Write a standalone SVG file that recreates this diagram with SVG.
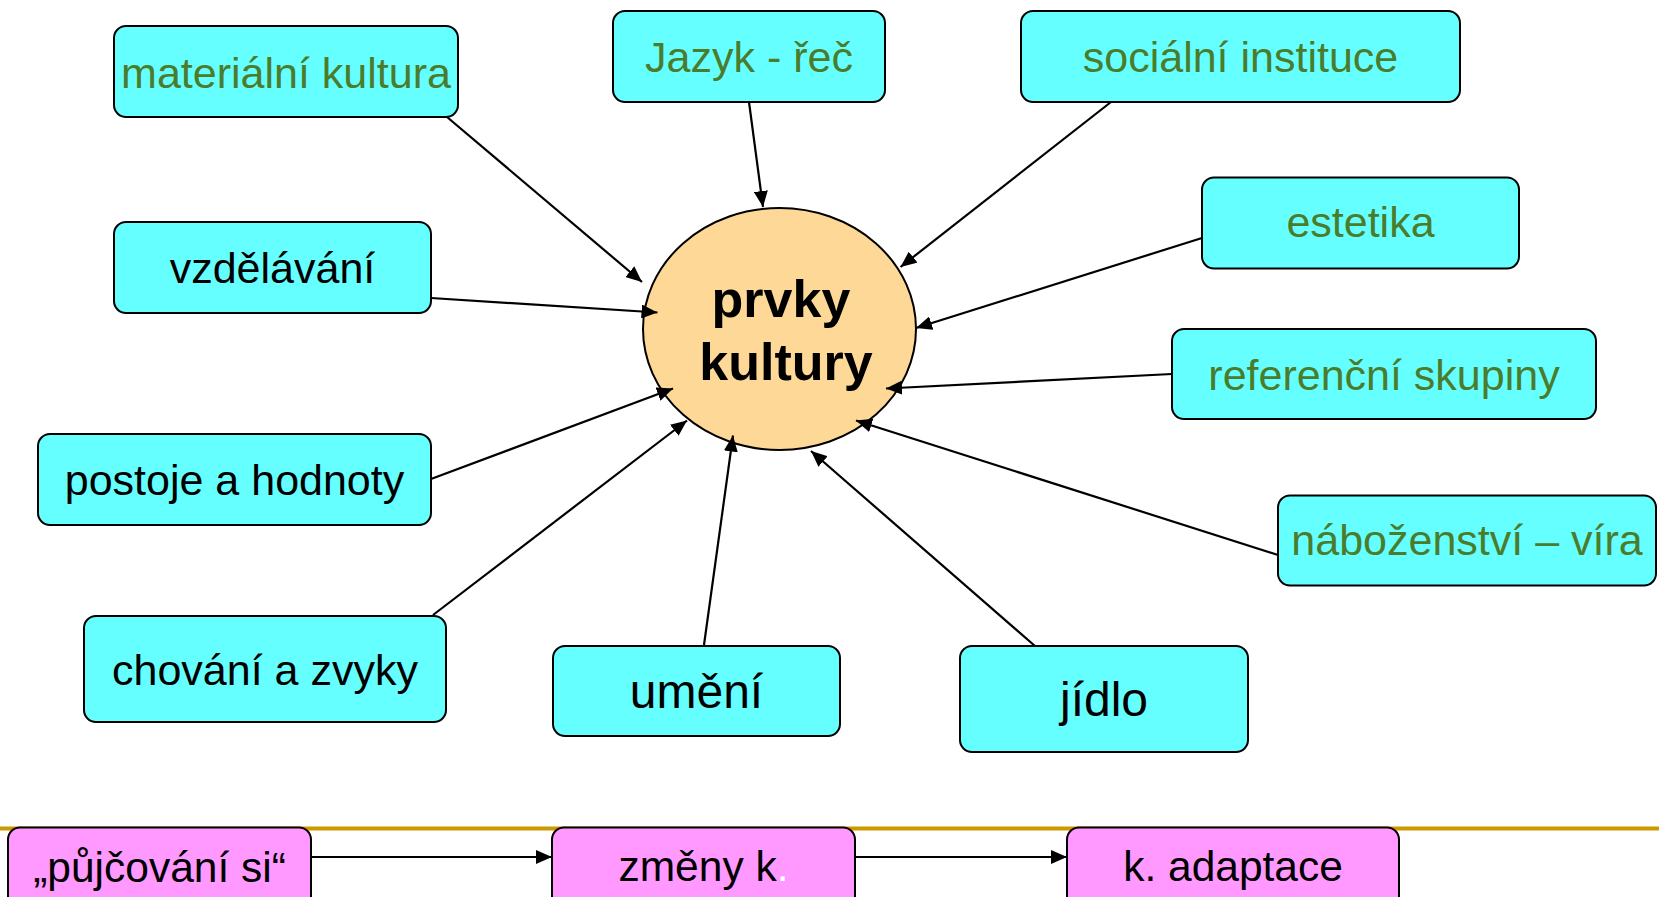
<svg xmlns="http://www.w3.org/2000/svg" width="1659" height="897" viewBox="0 0 1659 897">
<defs>
<marker id="ah" markerUnits="userSpaceOnUse" markerWidth="16" markerHeight="14" refX="16" refY="7" orient="auto">
<path d="M0,0 L16,7 L0,14 z" fill="#000"/>
</marker>
</defs>
<style>
.box{fill:#66FFFF;stroke:#000;stroke-width:2}
.pink{fill:#FF99FF;stroke:#000;stroke-width:2}
.t{font-family:"Liberation Sans",Arial,sans-serif;font-size:43px;text-anchor:middle;fill:#000}
.g{fill:#4A7C2C}
.big{font-size:48px}
.b{font-size:42.5px}
.c{stroke:#000;stroke-width:2.2;fill:none;marker-end:url(#ah)}
</style>
<rect width="1659" height="897" fill="#fff"/>
<line x1="0" y1="828.5" x2="1659" y2="828.5" stroke="#CC9900" stroke-width="4"/>

<g id="center">
<ellipse cx="779.5" cy="329" rx="136.5" ry="121" fill="#FDD896" stroke="#000" stroke-width="2"/>
<text class="t" x="781" y="317" style="font-weight:bold;font-size:52px">prvky</text>
<text class="t" x="786" y="380" style="font-weight:bold;font-size:52px">kultury</text>
</g>

<g id="n-materialni">
<rect class="box" x="114" y="26" width="344" height="91" rx="12"/>
<text class="t g" x="286" y="88">materiální kultura</text>
</g>
<g id="n-jazyk">
<rect class="box" x="613" y="11" width="272" height="91" rx="12"/>
<text class="t g" x="749" y="71.5">Jazyk - řeč</text>
</g>
<g id="n-socialni">
<rect class="box" x="1021" y="11" width="439" height="91" rx="12"/>
<text class="t g" x="1240.5" y="71.5">sociální instituce</text>
</g>
<g id="n-estetika">
<rect class="box" x="1202" y="177.5" width="317" height="91" rx="12"/>
<text class="t g" x="1360.5" y="237">estetika</text>
</g>
<g id="n-referencni">
<rect class="box" x="1172" y="329" width="424" height="90" rx="12"/>
<text class="t g" x="1384" y="389.5">referenční skupiny</text>
</g>
<g id="n-nabozenstvi">
<rect class="box" x="1278" y="495.5" width="378" height="90" rx="12"/>
<text class="t g" x="1467" y="555">náboženství – víra</text>
</g>
<g id="n-jidlo">
<rect class="box" x="960" y="646" width="288" height="106" rx="12"/>
<text class="t big" x="1104" y="716">jídlo</text>
</g>
<g id="n-umeni">
<rect class="box" x="553" y="646" width="287" height="90" rx="12"/>
<text class="t big" x="696.5" y="708">umění</text>
</g>
<g id="n-chovani">
<rect class="box" x="84" y="616" width="362" height="106" rx="12"/>
<text class="t" x="265" y="684.5">chování a zvyky</text>
</g>
<g id="n-postoje">
<rect class="box" x="38" y="434" width="393" height="91" rx="12"/>
<text class="t" x="234.5" y="495">postoje a hodnoty</text>
</g>
<g id="n-vzdelavani">
<rect class="box" x="114" y="222" width="317" height="91" rx="12"/>
<text class="t" x="272.5" y="282.5">vzdělávání</text>
</g>

<g id="n-pujcovani">
<rect class="pink" x="8" y="827.5" width="303" height="82" rx="12"/>
<text class="t b" x="159.5" y="881.5">„půjčování si“</text>
</g>
<g id="n-zmeny">
<rect class="pink" x="552" y="827.5" width="303" height="82" rx="12"/>
<text class="t b" x="703.5" y="881">změny k<tspan fill="#fff">.</tspan></text>
</g>
<g id="n-adaptace">
<rect class="pink" x="1067" y="827.5" width="332" height="82" rx="12"/>
<text class="t b" x="1233" y="881">k. adaptace</text>
</g>

<g id="connectors">
<line class="c" x1="447" y1="117" x2="642" y2="282"/>
<line class="c" x1="749" y1="102" x2="763" y2="207"/>
<line class="c" x1="1111" y1="102" x2="900.5" y2="267"/>
<line class="c" x1="1202" y1="238" x2="916" y2="328"/>
<line class="c" x1="1172" y1="374" x2="886" y2="388.5"/>
<line class="c" x1="1278" y1="555" x2="856" y2="420.5"/>
<line class="c" x1="1035" y1="646" x2="811" y2="451"/>
<line class="c" x1="704" y1="645" x2="733" y2="435.5"/>
<line class="c" x1="433" y1="615" x2="687" y2="420.5"/>
<line class="c" x1="431" y1="479" x2="673" y2="388.5"/>
<line class="c" x1="431" y1="298" x2="657.5" y2="312.5"/>
<line class="c" x1="311" y1="857" x2="552" y2="857"/>
<line class="c" x1="855" y1="857" x2="1067" y2="857"/>
</g>
</svg>
